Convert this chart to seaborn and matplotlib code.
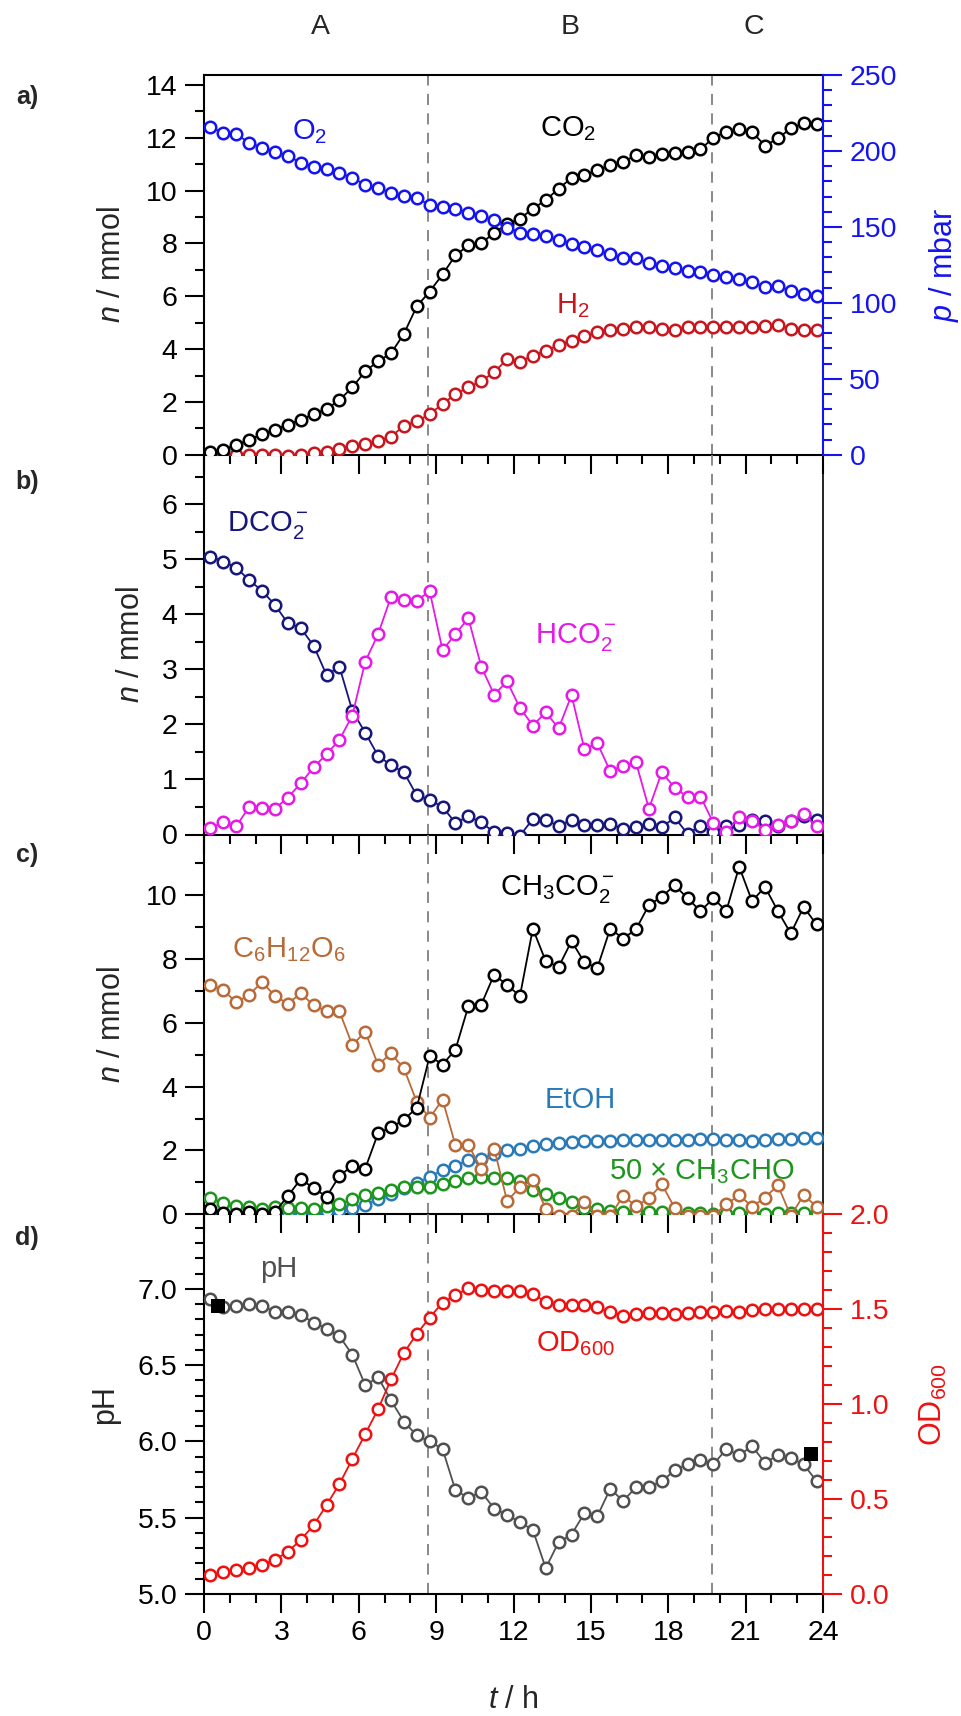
import numpy as np
import matplotlib
matplotlib.use("Agg")
import matplotlib.pyplot as plt
from matplotlib.ticker import MultipleLocator, FormatStrFormatter
from matplotlib.transforms import blended_transform_factory
import seaborn as sns

# ---------------------------------------------------------------- data
hours = [0.25, 0.75, 1.25, 1.75, 2.25, 2.75, 3.25, 3.75, 4.25, 4.75, 5.25, 5.75,
         6.25, 6.75, 7.25, 7.75, 8.25, 8.75, 9.25, 9.75, 10.25, 10.75, 11.25, 11.75,
         12.25, 12.75, 13.25, 13.75, 14.25, 14.75, 15.25, 15.75, 16.25, 16.75, 17.25, 17.75,
         18.25, 18.75, 19.25, 19.75, 20.25, 20.75, 21.25, 21.75, 22.25, 22.75, 23.25, 23.75]

# a) gas phase
co2_mmol = [0.09, 0.19, 0.38, 0.56, 0.78, 0.95, 1.14, 1.32, 1.54, 1.73, 2.07, 2.55,
            3.16, 3.54, 3.84, 4.58, 5.62, 6.18, 6.83, 7.55, 7.93, 8.00, 8.41, 8.73,
            8.94, 9.32, 9.64, 10.08, 10.48, 10.59, 10.78, 10.96, 11.09, 11.34, 11.26, 11.37,
            11.43, 11.47, 11.56, 12.01, 12.23, 12.32, 12.23, 11.70, 11.98, 12.36, 12.55, 12.52]
h2_mmol = [0.00, 0.00, 0.00, -0.02, 0.00, -0.02, -0.04, 0.00, 0.05, 0.09, 0.22, 0.32,
           0.40, 0.53, 0.68, 1.10, 1.26, 1.54, 1.92, 2.30, 2.55, 2.80, 3.12, 3.62,
           3.53, 3.75, 3.94, 4.16, 4.32, 4.48, 4.65, 4.74, 4.78, 4.82, 4.84, 4.78,
           4.74, 4.82, 4.84, 4.84, 4.84, 4.84, 4.84, 4.87, 4.90, 4.78, 4.71, 4.74]
o2_mbar = [215.5, 212.0, 211.0, 205.5, 202.0, 199.6, 196.7, 192.3, 189.5, 188.0, 185.3, 182.5,
           177.6, 175.4, 172.6, 170.4, 168.9, 164.5, 163.2, 161.6, 159.4, 157.2, 154.4, 149.6,
           146.3, 145.2, 144.1, 141.2, 139.0, 136.8, 134.6, 132.0, 129.8, 129.2, 126.5, 124.3,
           123.2, 121.0, 120.6, 118.4, 116.7, 115.6, 113.4, 110.7, 111.2, 107.9, 105.7, 104.6]

# b) formate
dco2_mmol = [5.05, 4.96, 4.85, 4.62, 4.43, 4.17, 3.84, 3.75, 3.43, 2.90, 3.05, 2.25,
             1.85, 1.43, 1.26, 1.13, 0.71, 0.63, 0.50, 0.21, 0.33, 0.22, 0.04, 0.02,
             -0.02, 0.28, 0.27, 0.15, 0.27, 0.18, 0.18, 0.19, 0.10, 0.13, 0.19, 0.13,
             0.31, 0.01, 0.16, 0.05, 0.15, 0.18, 0.27, 0.25, 0.16, 0.25, 0.33, 0.27]
hco2_mmol = [0.12, 0.22, 0.15, 0.50, 0.48, 0.47, 0.67, 0.93, 1.22, 1.46, 1.72, 2.16,
             3.14, 3.64, 4.32, 4.26, 4.25, 4.42, 3.35, 3.64, 3.93, 3.05, 2.54, 2.78,
             2.30, 1.98, 2.22, 1.93, 2.53, 1.55, 1.66, 1.15, 1.25, 1.31, 0.47, 1.13,
             0.85, 0.68, 0.69, 0.21, 0.04, 0.31, 0.25, 0.08, 0.18, 0.25, 0.37, 0.15]

# c) liquid phase
acetate_mmol = [0.15, 0.05, 0.00, 0.07, 0.00, 0.07, 0.57, 1.10, 0.82, 0.55, 1.20, 1.52,
                1.43, 2.54, 2.72, 2.96, 3.34, 4.96, 4.69, 5.16, 6.52, 6.57, 7.51, 7.18,
                6.84, 8.95, 7.93, 7.75, 8.56, 7.89, 7.72, 8.95, 8.64, 8.93, 9.69, 9.95,
                10.31, 9.90, 9.50, 9.90, 9.50, 10.89, 9.81, 10.26, 9.50, 8.80, 9.63, 9.08]
glucose_mmol = [7.18, 7.02, 6.64, 6.87, 7.28, 6.84, 6.60, 6.92, 6.55, 6.36, 6.36, 5.30,
                5.72, 4.68, 5.04, 4.57, 3.52, 3.02, 3.59, 2.16, 2.18, 1.41, 2.06, 0.42,
                0.84, 1.08, 0.18, -0.05, -0.05, 0.39, -0.05, -0.05, 0.57, 0.26, 0.50, 0.94,
                0.20, -0.05, -0.05, -0.05, 0.31, 0.60, 0.24, 0.52, 0.91, -0.05, 0.60, 0.24]
ethanol_mmol = [0.05, 0.03, 0.00, 0.00, 0.00, 0.02, 0.05, 0.05, 0.07, 0.10, 0.14, 0.20,
                0.30, 0.47, 0.64, 0.82, 0.98, 1.18, 1.38, 1.52, 1.70, 1.74, 1.88, 2.00,
                2.06, 2.15, 2.20, 2.24, 2.27, 2.28, 2.30, 2.30, 2.32, 2.32, 2.33, 2.33,
                2.34, 2.34, 2.35, 2.35, 2.33, 2.32, 2.31, 2.33, 2.35, 2.37, 2.38, 2.38]
acetaldehyde_x50 = [0.52, 0.34, 0.26, 0.24, 0.18, 0.24, 0.21, 0.21, 0.18, 0.26, 0.31, 0.47,
                    0.60, 0.68, 0.76, 0.84, 0.84, 0.84, 0.94, 1.04, 1.15, 1.18, 1.15, 1.15,
                    1.04, 0.76, 0.63, 0.52, 0.37, 0.21, 0.16, 0.10, 0.07, 0.10, 0.07, 0.07,
                    0.05, 0.05, 0.03, 0.00, 0.00, 0.03, 0.00, 0.00, 0.03, 0.03, 0.05, 0.05]

# d) pH and optical density
ph_values = [6.935, 6.88, 6.89, 6.90, 6.89, 6.85, 6.85, 6.83, 6.78, 6.74, 6.69, 6.57,
             6.37, 6.42, 6.27, 6.13, 6.04, 6.00, 5.95, 5.68, 5.63, 5.67, 5.56, 5.52,
             5.47, 5.42, 5.17, 5.34, 5.39, 5.53, 5.51, 5.69, 5.61, 5.70, 5.70, 5.74,
             5.81, 5.85, 5.88, 5.85, 5.95, 5.91, 5.97, 5.86, 5.91, 5.89, 5.85, 5.74]
od600 = [0.100, 0.114, 0.128, 0.137, 0.154, 0.180, 0.223, 0.284, 0.363, 0.468, 0.579, 0.711,
         0.842, 0.974, 1.130, 1.270, 1.370, 1.456, 1.535, 1.575, 1.609, 1.600, 1.596, 1.596,
         1.596, 1.579, 1.539, 1.521, 1.521, 1.521, 1.509, 1.486, 1.465, 1.474, 1.482, 1.482,
         1.474, 1.479, 1.486, 1.486, 1.491, 1.486, 1.496, 1.500, 1.503, 1.503, 1.503, 1.500]
ph_probe_hours = [0.55, 23.55]
ph_probe_values = [6.89, 5.92]

phase_bounds = [8.7, 19.7]
phase_labels = ["A", "B", "C"]
phase_label_hours = [4.5, 14.2, 21.3]
panel_labels = ["a)", "b)", "c)", "d)"]

# ---------------------------------------------------------------- colours
C_O2 = "#1414f0"
C_CO2 = "black"
C_H2 = "#c8161e"
C_DCO2 = "#16167c"
C_HCO2 = "#e619e6"
C_ACET = "black"
C_GLUC = "#b86a38"
C_ETOH = "#2a7ab8"
C_ACALD = "#1e961e"
C_PH = "#505050"
C_OD = "#ee1111"
C_DASH = "#808080"

# ---------------------------------------------------------------- style
sns.set_style("ticks")
plt.rcParams.update({
    "font.family": ["Liberation Sans", "DejaVu Sans"],
    "mathtext.fontset": "custom",
    "mathtext.rm": "Liberation Sans",
    "mathtext.it": "Liberation Sans:italic",
    "mathtext.bf": "Liberation Sans:bold",
    "axes.linewidth": 1.5,
    "axes.edgecolor": "black",
    "lines.scale_dashes": False,
})

TICK_FS = 20.5
LABEL_FS = 22
NOTE_FS = 21

W_PX, H_PX = 962, 1716
fig = plt.figure(figsize=(W_PX / 100, H_PX / 100), dpi=100)

left = 204 / W_PX
width = 619 / W_PX
panel_h = 379.75
tops = [75, 75 + panel_h, 75 + 2 * panel_h, 75 + 3 * panel_h]
axes = [fig.add_axes([left, 1 - (t + panel_h) / H_PX, width, panel_h / H_PX]) for t in tops]
ax_a, ax_b, ax_c, ax_d = axes


def tick_style(ax, axis="both", color="black"):
    ax.tick_params(axis=axis, which="both", direction="out", width=1.5,
                   color=color, labelcolor=color)
    ax.tick_params(axis=axis, which="major", length=14, labelsize=TICK_FS, pad=5)
    ax.tick_params(axis=axis, which="minor", length=6.7)


def style_panel(ax, ylim, major, minor, fmt=None):
    ax.set_xlim(0, 24)
    ax.set_ylim(*ylim)
    ax.xaxis.set_major_locator(MultipleLocator(3))
    ax.xaxis.set_minor_locator(MultipleLocator(1))
    ax.yaxis.set_major_locator(MultipleLocator(major))
    ax.yaxis.set_minor_locator(MultipleLocator(minor))
    if fmt:
        ax.yaxis.set_major_formatter(FormatStrFormatter(fmt))
    tick_style(ax)
    ax.tick_params(top=False, right=False, which="both")
    ax.patch.set_visible(False)
    ax.set_xlabel("")
    ax.set_ylabel("")
    for x in phase_bounds:
        ax.axvline(x, color=C_DASH, lw=1.3, ls=(0, (8, 6)), zorder=1)


def series(ax, y, color, z=3):
    sns.lineplot(x=hours, y=y, ax=ax, color=color, linewidth=1.3,
                 marker="o", markersize=8.3, markerfacecolor="white",
                 markeredgecolor=color, markeredgewidth=1.8,
                 estimator=None, errorbar=None, legend=False, zorder=z)


style_panel(ax_a, (0, 14.38), 2, 1)
style_panel(ax_b, (0, 6.9), 1, 0.5)
style_panel(ax_c, (0, 11.9), 2, 1)
style_panel(ax_d, (5.0, 7.49), 0.5, 0.1, "%.1f")
for ax in (ax_a, ax_b, ax_c):
    ax.tick_params(labelbottom=False)
for ax in (ax_b, ax_c, ax_d):
    ax.spines["top"].set_visible(False)
for ax in (ax_b, ax_c):
    ax.spines["right"].set_linewidth(1.2)

# a) gas phase: CO2 and H2 in mmol, O2 partial pressure on the right
tw_a = ax_a.twinx()
series(ax_a, co2_mmol, C_CO2, 4)
series(ax_a, h2_mmol, C_H2, 3)
series(tw_a, o2_mbar, C_O2, 3)
tw_a.set_ylim(0, 250)
tw_a.yaxis.set_major_locator(MultipleLocator(50))
tw_a.yaxis.set_minor_locator(MultipleLocator(10))
tick_style(tw_a, "y", C_O2)
tw_a.set_ylabel("")
for s in ("left", "top", "bottom"):
    tw_a.spines[s].set_visible(False)
tw_a.spines["right"].set_color(C_O2)
tw_a.spines["right"].set_linewidth(1.5)
ax_a.spines["right"].set_visible(False)

ax_a.text(4.1, 12.25, r"O$_2$", color=C_O2, fontsize=NOTE_FS, ha="center", va="center")
ax_a.text(14.1, 12.35, r"CO$_2$", color=C_CO2, fontsize=NOTE_FS, ha="center", va="center")
ax_a.text(14.3, 5.65, r"H$_2$", color=C_H2, fontsize=NOTE_FS, ha="center", va="center")

# b) formate
series(ax_b, dco2_mmol, C_DCO2, 3)
series(ax_b, hco2_mmol, C_HCO2, 4)
ax_b.text(2.45, 5.62, r"DCO$_2^-$", color=C_DCO2, fontsize=NOTE_FS, ha="center", va="center")
ax_b.text(14.4, 3.58, r"HCO$_2^-$", color=C_HCO2, fontsize=NOTE_FS, ha="center", va="center")

# c) acetate, glucose, ethanol and acetaldehyde
series(ax_c, ethanol_mmol, C_ETOH, 3)
series(ax_c, acetaldehyde_x50, C_ACALD, 4)
series(ax_c, glucose_mmol, C_GLUC, 5)
series(ax_c, acetate_mmol, C_ACET, 6)
ax_c.text(13.7, 10.2, r"CH$_3$CO$_2^-$", color=C_ACET, fontsize=NOTE_FS, ha="center", va="center")
ax_c.text(3.3, 8.28, r"C$_6$H$_{12}$O$_6$", color=C_GLUC, fontsize=NOTE_FS, ha="center", va="center")
ax_c.text(14.6, 3.57, "EtOH", color=C_ETOH, fontsize=NOTE_FS, ha="center", va="center")
ax_c.text(19.3, 1.33, r"50 × CH$_3$CHO", color=C_ACALD, fontsize=NOTE_FS, ha="center", va="center")

# d) pH (left) and OD600 (right)
tw_d = ax_d.twinx()
series(ax_d, ph_values, C_PH, 4)
sns.scatterplot(x=ph_probe_hours, y=ph_probe_values, ax=ax_d, marker="s", s=110,
                color="black", linewidth=0, zorder=6, legend=False)
series(tw_d, od600, C_OD, 3)
tw_d.set_ylim(0, 2.0)
tw_d.yaxis.set_major_locator(MultipleLocator(0.5))
tw_d.yaxis.set_minor_locator(MultipleLocator(0.1))
tw_d.yaxis.set_major_formatter(FormatStrFormatter("%.1f"))
tick_style(tw_d, "y", C_OD)
tw_d.set_ylabel("")
for s in ("left", "top", "bottom"):
    tw_d.spines[s].set_visible(False)
tw_d.spines["right"].set_color(C_OD)
tw_d.spines["right"].set_linewidth(1.5)
ax_d.spines["right"].set_visible(False)
ax_d.set_xlabel("")
ax_d.text(2.9, 7.13, "pH", color=C_PH, fontsize=NOTE_FS, ha="center", va="center")
tw_d.text(14.4, 1.32, r"OD$_{600}$", color=C_OD, fontsize=NOTE_FS, ha="center", va="center")

# axis titles
for ax, xpos in ((ax_a, -0.149), (ax_b, -0.118), (ax_c, -0.149)):
    ax.text(xpos, 0.5, r"$n$ / mmol", transform=ax.transAxes, rotation=90,
            ha="center", va="center", fontsize=LABEL_FS)
ax_d.text(-0.16, 0.5, "pH", transform=ax_d.transAxes, rotation=90,
          ha="center", va="center", fontsize=LABEL_FS)
ax_a.text(1.195, 0.5, r"$p$ / mbar", transform=ax_a.transAxes, rotation=90,
          ha="center", va="center", fontsize=LABEL_FS, color=C_O2)
ax_d.text(1.179, 0.5, r"OD$_{600}$", transform=ax_d.transAxes, rotation=90,
          ha="center", va="center", fontsize=LABEL_FS, color=C_OD)
fig.text(513.6 / W_PX, 1 - 1700 / H_PX, r"$t$ / h", ha="center", va="center",
         fontsize=LABEL_FS)

# phase names above the top panel
trans = blended_transform_factory(ax_a.transData, fig.transFigure)
for lab, x in zip(phase_labels, phase_label_hours):
    ax_a.text(x, 1 - 27 / H_PX, lab, transform=trans, ha="center", va="center",
              fontsize=20.5, clip_on=False)

# panel letters
for lab, y_px in zip(panel_labels, [97, 482, 855, 1238]):
    fig.text(27 / W_PX, 1 - y_px / H_PX, lab, ha="center", va="center",
             fontsize=18, fontweight="bold")

fig.savefig("out.png", dpi=100)
